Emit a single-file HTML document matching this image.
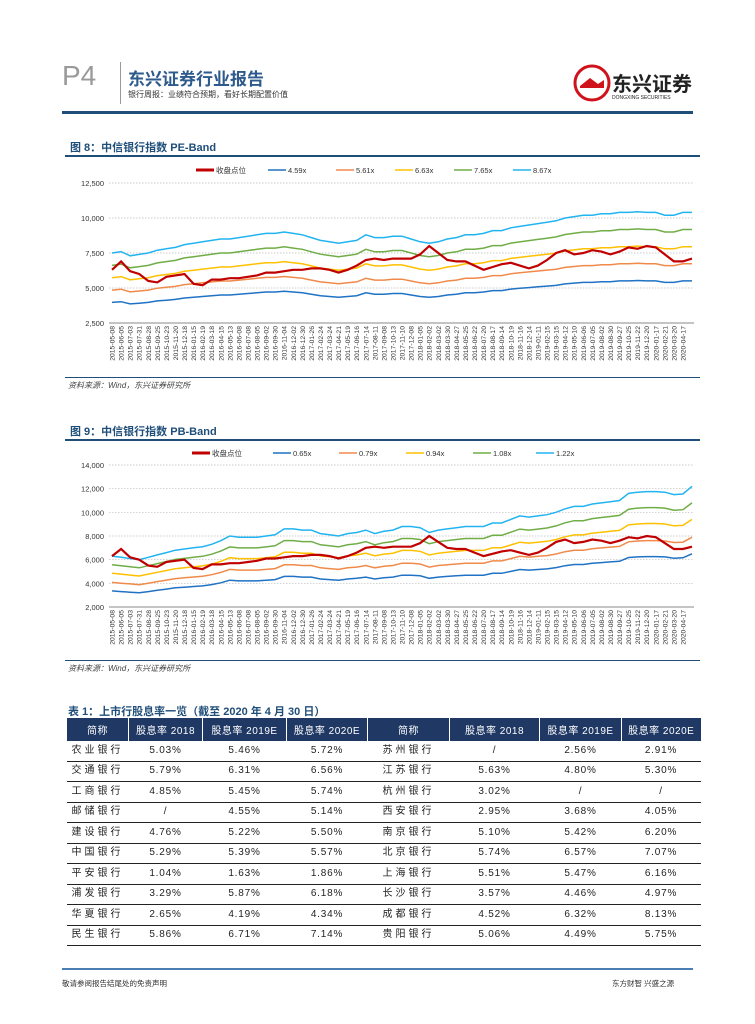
<!DOCTYPE html>
<html><head><meta charset="utf-8">
<style>
body{margin:0;background:#fff;}
#page{position:relative;width:755px;height:1024px;overflow:hidden;font-family:"Liberation Sans","Noto Sans CJK SC",sans-serif;}
.abs{position:absolute;white-space:nowrap;}
table{border-collapse:collapse;position:absolute;left:66px;top:718px;width:634px;table-layout:fixed;}
th{background:#1f3864;color:#fff;font-weight:normal;font-size:10px;height:23px;padding:0;border-left:1px solid #fff;letter-spacing:0.5px;}
td{font-size:10px;height:19.5px;padding:0;text-align:center;color:#222;border-bottom:1px solid #222;letter-spacing:0.8px;line-height:12px;}
td.n{letter-spacing:3px;}
</style></head>
<body>
<div id="page">
  <div class="abs" style="left:62px;top:60px;font-size:28px;color:#9a9a9a;">P4</div>
  <div class="abs" style="left:120px;top:62px;width:1px;height:42px;background:#999;"></div>
  <div class="abs" style="left:128px;top:65px;font-size:17px;font-weight:bold;color:#2e5a8c;">东兴证券行业报告</div>
  <div class="abs" style="left:128px;top:89px;font-size:8px;color:#333;">银行周报：业绩符合预期，看好长期配置价值</div>
  <svg class="abs" style="left:570px;top:62px;" width="130" height="42">
    <circle cx="22" cy="21" r="17" fill="none" stroke="#d0121b" stroke-width="3"/>
    <path d="M10 24 L20 16 L28 22 L34 18 L34 26 L10 26 Z" fill="#d0121b"/>
    <text x="42" y="29" font-size="20" font-weight="bold" fill="#222" font-family="Liberation Sans,Noto Sans CJK SC,sans-serif">东兴证券</text>
    <text x="42" y="37" font-size="5" fill="#222" font-family="Liberation Sans,sans-serif">DONGXING SECURITIES</text>
  </svg>
  <div class="abs" style="left:62px;top:111px;width:631px;height:3px;background:#1f4e79;"></div>

  <div class="abs" style="left:70px;top:139px;font-size:11px;font-weight:bold;color:#1f4e79;">图 8：中信银行指数 PE-Band</div>
  <div class="abs" style="left:65px;top:155px;width:635px;height:1.5px;background:#1f4e79;"></div>
  <svg id="c1" class="abs" style="left:0;top:160px;" width="755" height="220"></svg>
  <div class="abs" style="left:65px;top:377px;width:635px;height:1px;background:#1f4e79;"></div>
  <div class="abs" style="left:68px;top:380px;font-size:8px;font-style:italic;color:#444;">资料来源：Wind，东兴证券研究所</div>

  <div class="abs" style="left:70px;top:423px;font-size:11px;font-weight:bold;color:#1f4e79;">图 9：中信银行指数 PB-Band</div>
  <div class="abs" style="left:65px;top:439px;width:635px;height:1.5px;background:#1f4e79;"></div>
  <svg id="c2" class="abs" style="left:0;top:443px;" width="755" height="218"></svg>
  <div class="abs" style="left:65px;top:660px;width:635px;height:1px;background:#1f4e79;"></div>
  <div class="abs" style="left:68px;top:663px;font-size:8px;font-style:italic;color:#444;">资料来源：Wind，东兴证券研究所</div>

  <div class="abs" style="left:68px;top:703px;font-size:11px;font-weight:bold;color:#1f4e79;">表 1：上市行股息率一览（截至 2020 年 4 月 30 日）</div>
  <table>
    <colgroup><col style="width:62px"><col style="width:74px"><col style="width:84px"><col style="width:81px"><col style="width:82px"><col style="width:90px"><col style="width:82px"><col style="width:79px"></colgroup>
    <tr><th>简称</th><th>股息率 2018</th><th>股息率 2019E</th><th>股息率 2020E</th><th>简称</th><th>股息率 2018</th><th>股息率 2019E</th><th>股息率 2020E</th></tr>
    <tr><td class="n">农业银行</td><td>5.03%</td><td>5.46%</td><td>5.72%</td><td class="n">苏州银行</td><td>/</td><td>2.56%</td><td>2.91%</td></tr>
    <tr><td class="n">交通银行</td><td>5.79%</td><td>6.31%</td><td>6.56%</td><td class="n">江苏银行</td><td>5.63%</td><td>4.80%</td><td>5.30%</td></tr>
    <tr><td class="n">工商银行</td><td>4.85%</td><td>5.45%</td><td>5.74%</td><td class="n">杭州银行</td><td>3.02%</td><td>/</td><td>/</td></tr>
    <tr><td class="n">邮储银行</td><td>/</td><td>4.55%</td><td>5.14%</td><td class="n">西安银行</td><td>2.95%</td><td>3.68%</td><td>4.05%</td></tr>
    <tr><td class="n">建设银行</td><td>4.76%</td><td>5.22%</td><td>5.50%</td><td class="n">南京银行</td><td>5.10%</td><td>5.42%</td><td>6.20%</td></tr>
    <tr><td class="n">中国银行</td><td>5.29%</td><td>5.39%</td><td>5.57%</td><td class="n">北京银行</td><td>5.74%</td><td>6.57%</td><td>7.07%</td></tr>
    <tr><td class="n">平安银行</td><td>1.04%</td><td>1.63%</td><td>1.86%</td><td class="n">上海银行</td><td>5.51%</td><td>5.47%</td><td>6.16%</td></tr>
    <tr><td class="n">浦发银行</td><td>3.29%</td><td>5.87%</td><td>6.18%</td><td class="n">长沙银行</td><td>3.57%</td><td>4.46%</td><td>4.97%</td></tr>
    <tr><td class="n">华夏银行</td><td>2.65%</td><td>4.19%</td><td>4.34%</td><td class="n">成都银行</td><td>4.52%</td><td>6.32%</td><td>8.13%</td></tr>
    <tr><td class="n">民生银行</td><td>5.86%</td><td>6.71%</td><td>7.14%</td><td class="n">贵阳银行</td><td>5.06%</td><td>4.49%</td><td>5.75%</td></tr>
  </table>

  <div class="abs" style="left:62px;top:968px;width:631px;height:2px;background:#4a7fb5;"></div>
  <div class="abs" style="left:62px;top:978px;font-size:7.5px;color:#333;">敬请参阅报告结尾处的免责声明</div>
  <div class="abs" style="left:612px;top:978px;font-size:7.5px;color:#333;">东方财智 兴盛之源</div>
</div>
<script>
var dates = ["2015-05-08","2015-06-05","2015-07-03","2015-07-31","2015-08-28","2015-09-25","2015-10-23","2015-11-20","2015-12-18","2016-01-15","2016-02-19","2016-03-18","2016-04-15","2016-05-13","2016-06-08","2016-07-08","2016-08-05","2016-09-02","2016-09-30","2016-11-04","2016-12-02","2016-12-30","2017-01-26","2017-02-24","2017-03-24","2017-04-21","2017-05-19","2017-06-16","2017-07-14","2017-08-11","2017-09-08","2017-10-13","2017-11-10","2017-12-08","2018-01-05","2018-02-02","2018-03-02","2018-03-30","2018-04-27","2018-05-25","2018-06-22","2018-07-20","2018-08-17","2018-09-14","2018-10-19","2018-11-16","2018-12-14","2019-01-11","2019-02-15","2019-03-15","2019-04-12","2019-05-10","2019-06-06","2019-07-05","2019-08-02","2019-08-30","2019-09-27","2019-10-25","2019-11-22","2019-12-20","2020-01-17","2020-02-21","2020-03-20","2020-04-17","2020-04-30"];
var closeIdx = [6300,6900,6200,6000,5500,5400,5800,5900,6000,5300,5200,5600,5600,5700,5700,5800,5900,6100,6100,6200,6300,6300,6400,6400,6300,6100,6300,6600,7000,7100,7000,7100,7100,7100,7400,8000,7500,7000,6900,6900,6600,6300,6500,6700,6800,6600,6400,6600,7000,7500,7700,7400,7500,7700,7600,7400,7600,7900,7800,8000,7900,7400,6900,6900,7100];
var peMultiples = [4.59,5.61,6.63,7.65,8.67];
var peTopBand = [7500,7600,7300,7400,7500,7700,7800,7900,8100,8200,8300,8400,8500,8500,8600,8700,8800,8900,8900,9000,8900,8800,8600,8400,8300,8200,8300,8400,8800,8600,8600,8700,8700,8500,8300,8200,8300,8500,8600,8800,8800,8900,9100,9100,9300,9400,9500,9600,9700,9800,10000,10100,10200,10200,10300,10300,10400,10400,10450,10400,10400,10200,10200,10400,10400];
var pbMultiples = [0.65,0.79,0.94,1.08,1.22];
var pbTopBand = [6300,6200,6100,6000,6200,6400,6600,6800,6900,7000,7100,7300,7600,8000,7900,7900,7900,8000,8100,8600,8600,8500,8500,8200,8100,8000,8200,8300,8500,8200,8400,8500,8800,8800,8700,8300,8500,8600,8700,8800,8800,8800,9100,9100,9400,9700,9600,9700,9800,10000,10300,10500,10500,10700,10800,10900,11000,11600,11700,11750,11750,11700,11500,11550,12200];
var peTicks = [2500,5000,7500,10000,12500];
var peTickLabels = ["2,500","5,000","7,500","10,000","12,500"];
var pbTicks = [2000,4000,6000,8000,10000,12000,14000];
var pbTickLabels = ["2,000","4,000","6,000","8,000","10,000","12,000","14,000"];
var peLegend = ["收盘点位","4.59x","5.61x","6.63x","7.65x","8.67x"];
var pbLegend = ["收盘点位","0.65x","0.79x","0.94x","1.08x","1.22x"];

var SVGNS = "http://www.w3.org/2000/svg";
var bandColors = ["#1f72c4","#f08a4b","#ffc000","#70ad47","#22b4f0"];
function mk(svg, tag, attrs) {
  var e = document.createElementNS(SVGNS, tag);
  for (var k in attrs) { e.setAttribute(k, String(attrs[k])); }
  svg.appendChild(e);
  return e;
}
function drawChart(svgId, ticks, tickLabels, yTop, yBot, legend, legendXs, legendY, multiples, topBand, prefix) {
  var svg = document.getElementById(svgId);
  var x0 = 112, x1 = 692, vmin = ticks[0], vmax = ticks[ticks.length - 1];
  var n = dates.length;
  function xs(i) { return x0 + i * (x1 - x0) / (n - 1); }
  function ys(v) { return yBot - (v - vmin) / (vmax - vmin) * (yBot - yTop); }
  var i, k;
  for (i = 0; i < ticks.length; i++) {
    var yy = ys(ticks[i]);
    var g = mk(svg, 'line', {x1: 109, x2: 694, y1: yy, y2: yy, stroke: i === 0 ? '#888' : '#bbb', 'stroke-width': i === 0 ? 1 : 0.7});
    if (i > 0) g.setAttribute('stroke-dasharray', '1.5,1.5');
    
    
    var tx = mk(svg, 'text', {x: 104, y: yy + 3, 'text-anchor': 'end', 'font-size': 7.5, fill: '#333'});
    tx.textContent = tickLabels[i];
    
    
  }
  for (i = 0; i < n - 1; i++) {
    var lt = mk(svg, 'text', {x: 0, y: 0, 'text-anchor': 'end', 'font-size': 6.8, fill: '#333', transform: 'translate(' + (xs(i) + 2.5) + ',' + (yBot + 3) + ') rotate(-90)'});
    lt.textContent = dates[i];
    
    
  }
  var topMult = multiples[multiples.length - 1];
  for (k = 0; k < multiples.length; k++) {
    var pts = [];
    for (i = 0; i < topBand.length; i++) {
      pts.push((i ? 'L' : 'M') + xs(i).toFixed(1) + ',' + ys(topBand[i] * multiples[k] / topMult).toFixed(1));
    }
    var bp = mk(svg, 'path', {d: pts.join(''), fill: 'none', stroke: bandColors[k], 'stroke-width': 1.5});
    
    
  }
  var cpts = [];
  for (i = 0; i < closeIdx.length; i++) {
    cpts.push((i ? 'L' : 'M') + xs(i).toFixed(1) + ',' + ys(closeIdx[i]).toFixed(1));
  }
  var cp = mk(svg, 'path', {d: cpts.join(''), fill: 'none', stroke: '#c00000', 'stroke-width': 2.2});
  
  
  for (k = 0; k < legend.length; k++) {
    var lx = legendXs[k];
    var ln = mk(svg, 'line', {x1: lx, x2: lx + 18, y1: legendY, y2: legendY, stroke: k === 0 ? '#c00000' : bandColors[k - 1], 'stroke-width': k === 0 ? 3 : 1.5});
    
    
    var lg = mk(svg, 'text', {x: lx + 20, y: legendY + 3, 'font-size': 7.5, fill: '#333'});
    lg.textContent = legend[k];
    
    
  }
}
drawChart('c1', peTicks, peTickLabels, 23, 163, peLegend, [196,268,336,395,454,513], 10, peMultiples, peTopBand, 'pe');
drawChart('c2', pbTicks, pbTickLabels, 22, 164, pbLegend, [192,273,339,406,473,536], 10, pbMultiples, pbTopBand, 'pb');
</script>
</body></html>
